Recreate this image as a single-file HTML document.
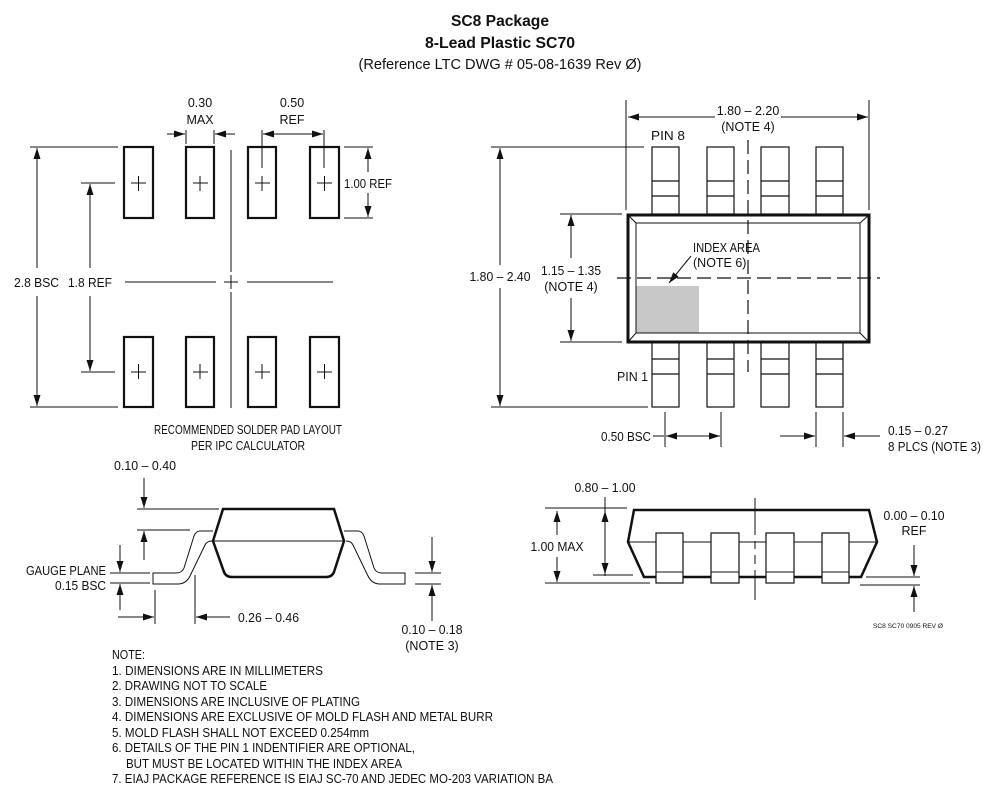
<!DOCTYPE html>
<html><head><meta charset="utf-8"><style>
html,body{margin:0;padding:0;background:#fff;}
svg{display:block;}
text{font-family:"Liberation Sans",sans-serif;fill:#111;font-size:12.5px;}
</style></head><body>
<svg width="999" height="803" viewBox="0 0 999 803" xmlns="http://www.w3.org/2000/svg">
<defs>
<marker id="a" markerUnits="userSpaceOnUse" markerWidth="12" markerHeight="8" refX="11" refY="3.5" orient="auto-start-reverse"><path d="M0,0 L11,3.5 L0,7 z" fill="#111"/></marker>
</defs>
<g stroke="#111" fill="none" stroke-width="1">
<!-- Titles -->
</g>
<text x="500" y="26" text-anchor="middle" font-weight="bold" style="font-size:16px" textLength="98" lengthAdjust="spacingAndGlyphs">SC8 Package</text>
<text x="500" y="48" text-anchor="middle" font-weight="bold" style="font-size:16px" textLength="150" lengthAdjust="spacingAndGlyphs">8-Lead Plastic SC70</text>
<text x="500" y="69" text-anchor="middle" style="font-size:14.5px" textLength="283" lengthAdjust="spacingAndGlyphs">(Reference LTC DWG # 05-08-1639 Rev Ø)</text>

<!-- ============ PAD LAYOUT ============ -->
<g stroke="#111" fill="none">
<g stroke-width="2.2">
<rect x="124" y="147" width="29" height="71"/><rect x="186" y="147" width="28" height="71"/>
<rect x="248" y="147" width="28" height="71"/><rect x="310" y="147" width="29" height="71"/>
<rect x="124" y="337" width="29" height="70"/><rect x="186" y="337" width="28" height="70"/>
<rect x="248" y="337" width="28" height="70"/><rect x="310" y="337" width="29" height="70"/>
</g>
<g stroke-width="1">
<path d="M131 183h15M138.5 176v15M193 183h15M200 176v15M255 183h15M262 176v15M317 183h15M324.5 176v15"/>
<path d="M131 372h15M138.5 364v15M193 372h15M200 364v15M255 372h15M262 364v15M317 372h15M324.5 364v15"/>
<path d="M231 150v122M231 292v116M125 282h91M247 282h86M224 282h14M231 275v14"/>
<!-- 2.8 BSC -->
<path d="M30 147h88M30 407h88"/>
<path d="M37 268V148" marker-end="url(#a)"/><path d="M37 296V406" marker-end="url(#a)"/>
<!-- 1.8 REF -->
<path d="M81 183h34M81 372h34"/>
<path d="M90 268V184" marker-end="url(#a)"/><path d="M90 296V371" marker-end="url(#a)"/>
<!-- 0.30 MAX -->
<path d="M186 130v14M214 130v14"/>
<path d="M167 134h18" marker-end="url(#a)"/><path d="M235 134h-20" marker-end="url(#a)"/>
<!-- 0.50 REF -->
<path d="M262 130v38M324 130v38"/>
<path d="M263 134h60" marker-start="url(#a)" marker-end="url(#a)"/>
<!-- 1.00 REF -->
<path d="M344 147h29M344 218h29"/>
<path d="M368 172V148" marker-end="url(#a)"/><path d="M368 193V217" marker-end="url(#a)"/>
</g>
</g>
<text x="14" y="287" textLength="45" lengthAdjust="spacingAndGlyphs">2.8 BSC</text>
<text x="68" y="287" textLength="44" lengthAdjust="spacingAndGlyphs">1.8 REF</text>
<text x="200" y="107" text-anchor="middle">0.30</text>
<text x="200" y="124" text-anchor="middle">MAX</text>
<text x="292" y="107" text-anchor="middle">0.50</text>
<text x="292" y="124" text-anchor="middle">REF</text>
<text x="344" y="188" textLength="48" lengthAdjust="spacingAndGlyphs">1.00 REF</text>
<text x="248" y="434" text-anchor="middle" textLength="188" lengthAdjust="spacingAndGlyphs">RECOMMENDED SOLDER PAD LAYOUT</text>
<text x="248" y="450" text-anchor="middle" textLength="114" lengthAdjust="spacingAndGlyphs">PER IPC CALCULATOR</text>

<!-- ============ TOP VIEW ============ -->
<g stroke="#111" fill="none">
<rect x="636" y="286" width="63" height="47" fill="#c8c8c8" stroke="none"/>
<g stroke-width="1.2">
<rect x="652" y="147" width="27" height="67"/><rect x="707" y="147" width="27" height="67"/>
<rect x="761" y="147" width="28" height="67"/><rect x="816" y="147" width="27" height="67"/>
<path d="M652 181h27M652 196h27M707 181h27M707 196h27M761 181h28M761 196h28M816 181h27M816 196h27"/>
<rect x="652" y="342" width="27" height="65"/><rect x="707" y="342" width="27" height="65"/>
<rect x="761" y="342" width="28" height="65"/><rect x="816" y="342" width="27" height="65"/>
<path d="M652 359h27M652 374h27M707 359h27M707 374h27M761 359h28M761 374h28M816 359h27M816 374h27"/>
</g>
<rect x="628" y="215" width="241" height="127" fill="none" stroke-width="3"/>
<rect x="636" y="223" width="224" height="110" stroke-width="1"/>
<path d="M628 215l8 8M869 215l-9 8M628 342l8-9M869 342l-9-9" stroke-width="1"/>
<path d="M617 278H880" stroke-width="1.2" stroke-dasharray="14,6"/>
<path d="M748 140V372" stroke-width="1.2" stroke-dasharray="14,6"/>
<g stroke-width="1">
<!-- 1.80-2.20 -->
<path d="M626 100v110M869 100v110"/>
<path d="M715 117H628" marker-end="url(#a)"/><path d="M781 117H868" marker-end="url(#a)"/>
<!-- 1.80-2.40 -->
<path d="M491 147h153M491 407h157"/>
<path d="M500 265V148" marker-end="url(#a)"/><path d="M500 288V406" marker-end="url(#a)"/>
<!-- 1.15-1.35 -->
<path d="M560 214h62M560 342h62"/>
<path d="M571 258V215" marker-end="url(#a)"/><path d="M571 298V341" marker-end="url(#a)"/>
<!-- index arrow -->
<path d="M691 256L669 283" marker-end="url(#a)"/>
<!-- 0.50 BSC -->
<path d="M665 412v35M721 412v35M653 436h11"/>
<path d="M666 436h54" marker-start="url(#a)" marker-end="url(#a)"/>
<!-- 0.15-0.27 -->
<path d="M816 412v35M843 412v35"/>
<path d="M780 436h35" marker-end="url(#a)"/><path d="M880 436h-36" marker-end="url(#a)"/>
</g>
</g>
<text x="748" y="115" text-anchor="middle">1.80 – 2.20</text>
<text x="748" y="131" text-anchor="middle">(NOTE 4)</text>
<text x="651" y="140" textLength="34" lengthAdjust="spacingAndGlyphs">PIN 8</text>
<text x="617" y="381" textLength="31" lengthAdjust="spacingAndGlyphs">PIN 1</text>
<text x="500" y="281" text-anchor="middle" textLength="61" lengthAdjust="spacingAndGlyphs">1.80 – 2.40</text>
<text x="571" y="275" text-anchor="middle" textLength="60" lengthAdjust="spacingAndGlyphs">1.15 – 1.35</text>
<text x="571" y="291" text-anchor="middle">(NOTE 4)</text>
<text x="693" y="252" textLength="67" lengthAdjust="spacingAndGlyphs">INDEX AREA</text>
<text x="693" y="267">(NOTE 6)</text>
<text x="651" y="441" text-anchor="end" textLength="50" lengthAdjust="spacingAndGlyphs">0.50 BSC</text>
<text x="888" y="435" textLength="60" lengthAdjust="spacingAndGlyphs">0.15 – 0.27</text>
<text x="888" y="451" textLength="93" lengthAdjust="spacingAndGlyphs">8 PLCS (NOTE 3)</text>

<!-- ============ SIDE VIEW LEFT ============ -->
<g stroke="#111" fill="none">
<path d="M213 531H200Q196 531 194 536L184 568Q182 573 176 573H153V584H178Q186 584 190 576L205 545Q207 541 212 541" stroke-width="1"/>
<path d="M344 531H358Q362 531 364 536L374 568Q376 573 382 573H405V584H380Q372 584 368 576L353 545Q351 541 346 541" stroke-width="1"/>
<path d="M223 509H334L344 541L334 572Q332 577 326 577H232Q226 577 224 572L213 541Z" stroke-width="2.5"/>
<path d="M213 541H344" stroke-width="1"/>
<g stroke-width="1">
<path d="M137 509h82M137 530h53"/>
<path d="M144 478v30" marker-end="url(#a)"/><path d="M144 560v-29" marker-end="url(#a)"/>
<path d="M110 573h40M110 583h40"/>
<path d="M120 545v27" marker-end="url(#a)"/><path d="M120 610v-26" marker-end="url(#a)"/>
<path d="M155 590v34M195 575v49"/>
<path d="M118 617h36" marker-end="url(#a)"/><path d="M230 617h-34" marker-end="url(#a)"/>
<path d="M415 573h26M415 584h26"/>
<path d="M432 537v35" marker-end="url(#a)"/><path d="M432 621v-36" marker-end="url(#a)"/>
</g>
</g>
<text x="145" y="470" text-anchor="middle" textLength="62" lengthAdjust="spacingAndGlyphs">0.10 – 0.40</text>
<text x="106" y="575" text-anchor="end" textLength="80" lengthAdjust="spacingAndGlyphs">GAUGE PLANE</text>
<text x="106" y="590" text-anchor="end" textLength="51" lengthAdjust="spacingAndGlyphs">0.15 BSC</text>
<text x="238" y="622" textLength="61" lengthAdjust="spacingAndGlyphs">0.26 – 0.46</text>
<text x="432" y="634" text-anchor="middle" textLength="61" lengthAdjust="spacingAndGlyphs">0.10 – 0.18</text>
<text x="432" y="650" text-anchor="middle">(NOTE 3)</text>

<!-- ============ SIDE VIEW RIGHT ============ -->
<g stroke="#111" fill="none">
<path d="M634 510H869L877 542L861 577H644L628 542Z" stroke-width="2.5"/>
<path d="M628 542H877" stroke-width="1"/>
<g stroke-width="1.2" fill="#fff">
<rect x="656" y="533" width="27" height="50"/><rect x="711" y="533" width="28" height="50"/>
<rect x="766" y="533" width="28" height="50"/><rect x="822" y="533" width="27" height="50"/>
</g>
<path d="M656 572h27M711 572h28M766 572h28M822 572h27" stroke-width="1"/>
<g stroke-width="1">
<path d="M755 498v37M755 541v8M755 555v9M755 570v30"/>
<path d="M545 508h82M545 583h105"/>
<path d="M557 535V511" marker-end="url(#a)"/><path d="M557 557V582" marker-end="url(#a)"/>
<path d="M593 575h40"/>
<path d="M605 497V576" />
<path d="M605 520V511" marker-end="url(#a)"/><path d="M605 565V574" marker-end="url(#a)"/>
<path d="M866 577h54M860 585h60"/>
<path d="M914 545v31" marker-end="url(#a)"/><path d="M914 612v-26" marker-end="url(#a)"/>
</g>
</g>
<text x="605" y="492" text-anchor="middle" textLength="61" lengthAdjust="spacingAndGlyphs">0.80 – 1.00</text>
<text x="557" y="551" text-anchor="middle" textLength="53" lengthAdjust="spacingAndGlyphs">1.00 MAX</text>
<text x="914" y="520" text-anchor="middle" textLength="61" lengthAdjust="spacingAndGlyphs">0.00 – 0.10</text>
<text x="914" y="535" text-anchor="middle">REF</text>
<text x="908" y="628" text-anchor="middle" style="font-size:6.5px" textLength="70" lengthAdjust="spacingAndGlyphs">SC8 SC70 0905 REV Ø</text>

<!-- ============ NOTES ============ -->
<text x="112" y="659" textLength="33" lengthAdjust="spacingAndGlyphs">NOTE:</text>
<text x="112" y="675" textLength="211" lengthAdjust="spacingAndGlyphs">1. DIMENSIONS ARE IN MILLIMETERS</text>
<text x="112" y="690" textLength="155" lengthAdjust="spacingAndGlyphs">2. DRAWING NOT TO SCALE</text>
<text x="112" y="706" textLength="248" lengthAdjust="spacingAndGlyphs">3. DIMENSIONS ARE INCLUSIVE OF PLATING</text>
<text x="112" y="721" textLength="381" lengthAdjust="spacingAndGlyphs">4. DIMENSIONS ARE EXCLUSIVE OF MOLD FLASH AND METAL BURR</text>
<text x="112" y="737" textLength="257" lengthAdjust="spacingAndGlyphs">5. MOLD FLASH SHALL NOT EXCEED 0.254mm</text>
<text x="112" y="752" textLength="303" lengthAdjust="spacingAndGlyphs">6. DETAILS OF THE PIN 1 INDENTIFIER ARE OPTIONAL,</text>
<text x="126" y="768" textLength="276" lengthAdjust="spacingAndGlyphs">BUT MUST BE LOCATED WITHIN THE INDEX AREA</text>
<text x="112" y="783" textLength="441" lengthAdjust="spacingAndGlyphs">7. EIAJ PACKAGE REFERENCE IS EIAJ SC-70 AND JEDEC MO-203 VARIATION BA</text>
</svg>
</body></html>
